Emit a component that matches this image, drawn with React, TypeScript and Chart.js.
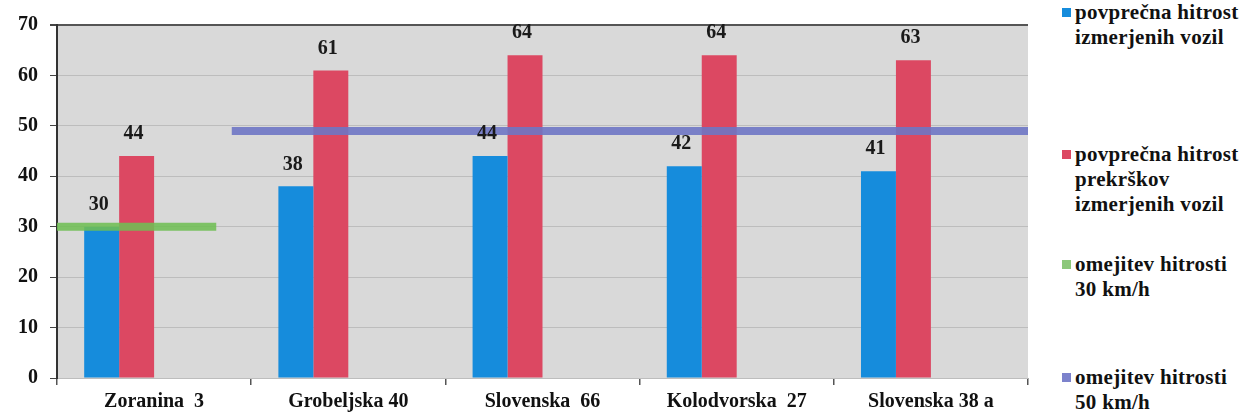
import React, { useEffect, useRef } from "react";
import { Chart, registerables } from "chart.js";

Chart.register(...registerables);

const categories = ["Zoranina  3", "Grobeljska 40", "Slovenska  66", "Kolodvorska  27", "Slovenska 38 a"];
const avgSpeed = [30, 38, 44, 42, 41];
const avgViolationSpeed = [44, 61, 64, 64, 63];
// speed-limit segments: [start, end] in category units, and the limit value
const limit30Span = [-0.5, 0.32];
const limit30Value = 30;
const limit50Span = [0.4, 4.5];
const limit50Value = 49;
const yTickValues = [0, 10, 20, 30, 40, 50, 60, 70];

const seriesNames = [
  ["povprečna hitrost", "izmerjenih vozil"],
  ["povprečna hitrost", "prekrškov", "izmerjenih vozil"],
  ["omejitev hitrosti", "30 km/h"],
  ["omejitev hitrosti", "50 km/h"],
];

const FONT = '"Liberation Serif", "Times New Roman", serif';
const BLUE = "#168cdc";
const RED = "#dc4862";
const GREEN = "rgba(112,190,84,0.88)";
const PURPLE = "rgba(110,118,196,0.9)";
const legendColors = [BLUE, RED, "#8cc87a", "#7c82cc"];
const legendTops = [0, 142, 252, 365];

const bgPlugin = {
  id: "plotBg",
  beforeDraw(chart: any) {
    const { ctx, chartArea } = chart;
    ctx.save();
    ctx.fillStyle = "#d9d9d9";
    ctx.fillRect(chartArea.left, chartArea.top, chartArea.right - chartArea.left, chartArea.bottom - chartArea.top);
    ctx.restore();
  },
};

const limitPlugin = {
  id: "limitLines",
  afterDatasetsDraw(chart: any) {
    const { ctx } = chart;
    const xs = chart.scales.x;
    const ys = chart.scales.y;
    const x0 = xs.getPixelForValue(0);
    const step = xs.getPixelForValue(1) - x0;
    const segs: [number[], number, string][] = [
      [limit30Span, limit30Value, GREEN],
      [limit50Span, limit50Value, PURPLE],
    ];
    ctx.save();
    ctx.lineWidth = 8;
    ctx.lineCap = "butt";
    segs.forEach(([span, val, color]) => {
      const y = ys.getPixelForValue(val);
      ctx.strokeStyle = color;
      ctx.beginPath();
      ctx.moveTo(x0 + span[0] * step, y);
      ctx.lineTo(x0 + span[1] * step, y);
      ctx.stroke();
    });
    ctx.restore();
  },
};

const labelPlugin = {
  id: "valueLabels",
  afterDatasetsDraw(chart: any) {
    const { ctx } = chart;
    ctx.save();
    ctx.font = `bold 20px ${FONT}`;
    ctx.fillStyle = "#1a1a1a";
    ctx.textAlign = "center";
    ctx.textBaseline = "middle";
    [0, 1].forEach((di) => {
      const meta = chart.getDatasetMeta(di);
      const vals = chart.data.datasets[di].data as number[];
      meta.data.forEach((bar: any, i: number) => {
        ctx.fillText(String(vals[i]), bar.x - 3, bar.y - 22);
      });
    });
    ctx.restore();
  },
};

export default function App() {
  const ref = useRef<HTMLCanvasElement | null>(null);

  useEffect(() => {
    if (!ref.current) return;
    const chart = new Chart(ref.current, {
      type: "bar",
      data: {
        labels: categories,
        datasets: [
          { label: seriesNames[0].join(" "), data: avgSpeed, backgroundColor: BLUE, borderWidth: 0 },
          { label: seriesNames[1].join(" "), data: avgViolationSpeed, backgroundColor: RED, borderWidth: 0 },
          { label: seriesNames[2].join(" "), data: categories.map(() => null), backgroundColor: GREEN },
          { label: seriesNames[3].join(" "), data: categories.map(() => null), backgroundColor: PURPLE },
        ] as any,
      },
      options: {
        animation: false,
        responsive: false,
        maintainAspectRatio: false,
        layout: { padding: { top: 25, right: 12, bottom: 0, left: 0 } },
        datasets: { bar: { categoryPercentage: 0.72, barPercentage: 1 } },
        plugins: { legend: { display: false }, tooltip: { enabled: false } },
        scales: {
          x: {
            type: "category",
            offset: true,
            grid: { drawOnChartArea: false, drawTicks: true, tickLength: 7, tickColor: "#555", lineWidth: 1.5 },
            border: { display: false },
            ticks: { color: "#111", font: { family: FONT, size: 20, weight: "bold" }, padding: 5, maxRotation: 0, autoSkip: false },
            afterFit: (s: any) => { s.height = 41; },
          },
          y: {
            min: 0,
            max: 70,
            afterBuildTicks: (s: any) => { s.ticks = yTickValues.map((v) => ({ value: v })); },
            grid: {
              color: (c: any) => (c.tick && c.tick.value === 70 ? "#555" : "#bdbdbd"),
              lineWidth: (c: any) => (c.tick && c.tick.value === 70 ? 2 : 1),
              tickLength: 7,
              tickColor: "#444",
            },
            border: { display: true, color: "#333", width: 2 },
            ticks: { color: "#111", font: { family: FONT, size: 20, weight: "bold" }, padding: 12 },
            afterFit: (s: any) => { s.width = 57; },
          },
        },
      } as any,
      plugins: [bgPlugin, limitPlugin, labelPlugin],
    });
    return () => chart.destroy();
  }, []);

  return (
    <div style={{ position: "absolute", left: 0, top: 0, width: 1246, height: 419, background: "#fff" }}>
      <canvas ref={ref} width={1040} height={419} style={{ position: "absolute", left: 0, top: 0, width: 1040, height: 419 }} />
      {seriesNames.map((lines, i) => (
        <div key={i} style={{ position: "absolute", left: 1060, top: legendTops[i], fontFamily: FONT, fontWeight: "bold", fontSize: 21, lineHeight: "25px", color: "#111", letterSpacing: 0.3 }}>
          <span style={{ position: "absolute", left: 2, top: 8, width: 9, height: 9, background: legendColors[i] }} />
          {lines.map((t, j) => (
            <div key={j} style={{ paddingLeft: 15, whiteSpace: "nowrap" }}>{t}</div>
          ))}
        </div>
      ))}
    </div>
  );
}
